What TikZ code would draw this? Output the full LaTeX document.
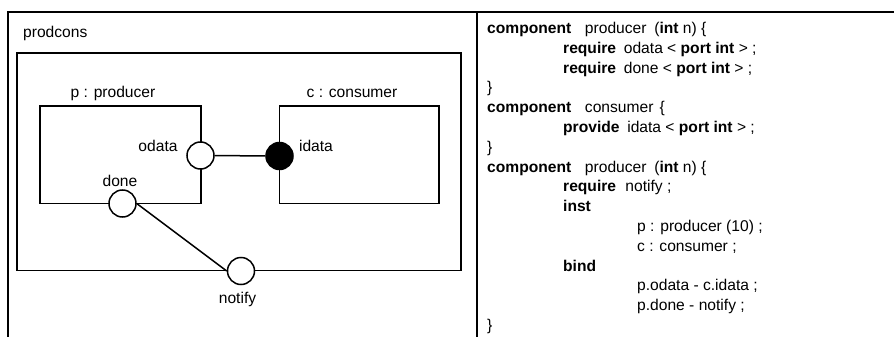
\documentclass[tikz,border=0pt]{standalone}
\usepackage{fontspec}
\setmainfont{Liberation Sans}
\newcommand{\kw}[1]{\textbf{#1}}
\begin{document}
\begin{tikzpicture}[x=1pt,y=-1pt,
  frame/.style={draw, line width=1.4pt},
  thickframe/.style={draw, line width=2pt},
  boxline/.style={draw, line width=1.5pt},
  port/.style={circle, draw, fill=white, line width=1.5pt, minimum size=27pt, inner sep=0pt},
  fport/.style={port, fill=black},
  wire/.style={draw, line width=1.5pt},
  lbl/.style={font=\fontsize{15.6}{19}\selectfont, inner sep=0pt, anchor=base},
  code/.style={font=\fontsize{15.6}{19}\selectfont, inner sep=0pt, anchor=base west}]

\useasboundingbox (0,0) rectangle (894,337);

% panels
\draw[frame] (8,337) -- (8,12) -- (476,12);
\draw[thickframe] (476.5,337) -- (476.5,12) -- (894,12);

% component boxes
\draw[boxline] (17,53) rectangle (461,270.5);
\draw[boxline] (40,106) rectangle (201,203.5);
\draw[boxline] (279.5,106) rectangle (439,203.5);

% ports
\node[port]  (odata)  at (200.5,155.5) {};
\node[fport] (idata)  at (279.5,156) {};
\node[port]  (done)   at (122.5,203.5) {};
\node[port]  (notify) at (241,271) {};

% connectors
\draw[wire] (odata.east) -- (idata.west);
\draw[wire] (done.east) -- (notify.west);

% labels
\node[lbl, anchor=base west] (tprodcons) at (23,38) {prodcons};
\node[lbl] (tp)      at (113,97.5) {p : producer};
\node[lbl] (tc)      at (352,97.5) {c : consumer};
\node[lbl] (todata)  at (158,151) {odata};
\node[lbl] (tidata)  at (316,151) {idata};
\node[lbl] (tdone)   at (120,186.5) {done};
\node[lbl] (tnotify) at (237.5,303.5) {notify};

% code
\node[code] (c0)  at (487,33.5)  {\kw{component}\hspace{0.88em}producer\hspace{0.5em}(\kw{int} n) \{};
\node[code] (c1)  at (563,53.3)  {\kw{require}\hspace{0.5em}odata < \kw{port int} > ;};
\node[code] (c2)  at (563,73.1)  {\kw{require}\hspace{0.5em}done < \kw{port int} > ;};
\node[code] (c3)  at (487,92.9)  {\}};
\node[code] (c4)  at (487,112.7) {\kw{component}\hspace{0.88em}consumer\hspace{0.4em}\{};
\node[code] (c5)  at (563,132.5) {\kw{provide}\hspace{0.5em}idata < \kw{port int} > ;};
\node[code] (c6)  at (487,152.3) {\}};
\node[code] (c7)  at (487,172.1) {\kw{component}\hspace{0.88em}producer\hspace{0.5em}(\kw{int} n) \{};
\node[code] (c8)  at (563,191.9) {\kw{require}\hspace{0.6em}notify ;};
\node[code] (c9)  at (563,211.7) {\kw{inst}};
\node[code] (c10) at (637,231.5) {p : producer (10) ;};
\node[code] (c11) at (637,251.3) {c : consumer ;};
\node[code] (c12) at (563,271.1) {\kw{bind}};
\node[code] (c13) at (637,290.9) {p.odata - c.idata ;};
\node[code] (c14) at (637,310.7) {p.done - notify ;};
\node[code] (c15) at (487,330.5) {\}};
\end{tikzpicture}
\end{document}
